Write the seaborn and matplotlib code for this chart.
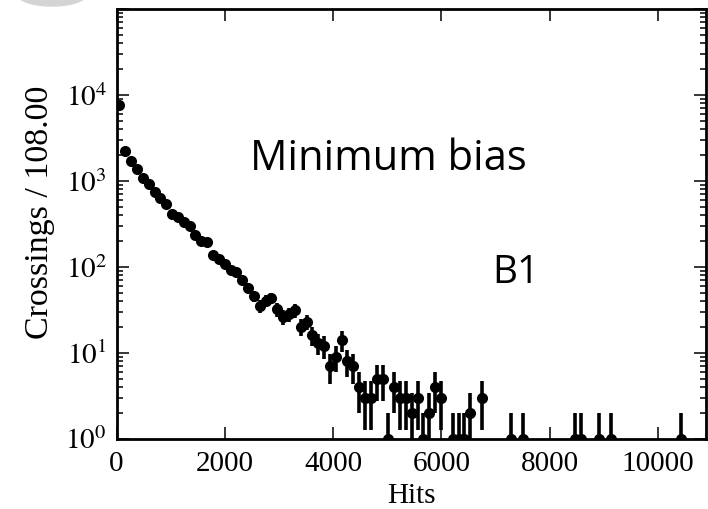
import numpy as np
import pandas as pd
import matplotlib
matplotlib.use("Agg")
import matplotlib.pyplot as plt
import seaborn as sns
from matplotlib.ticker import LogLocator, NullFormatter, FixedLocator
from matplotlib.patches import Ellipse

# ---- data ----
bin_width = 108
bin_index = list(range(0, 56)) + [57, 58, 59, 60, 62, 67, 69, 78, 79, 82, 84, 96]
counts = [7540, 2250, 1690, 1370, 1075, 915, 740, 630, 541, 415,
          380, 335, 296, 235, 200, 196, 138, 124, 109, 92,
          88, 71, 57, 46, 35, 40, 43, 32, 26, 28,
          31, 20, 23, 16, 13, 12, 7, 9, 14, 8,
          7, 4, 3, 3, 5, 5, 1, 4, 3, 3,
          2, 3, 1, 2, 4, 3,
          1, 1, 1, 2, 3, 1, 1, 1, 1, 1, 1, 1]
x_ticks = [0, 2000, 4000, 6000, 8000, 10000]
y_ticks = [1, 10, 100, 1000, 10000]
y_tick_labels = [r"$10^{0}$", r"$10^{1}$", r"$10^{2}$", r"$10^{3}$", r"$10^{4}$"]
x_label = "Hits"
y_label = "Crossings / 108.00"
title_text = "Minimum bias"
tag_text = "B1"

sns.set_theme(style="ticks")
plt.rcParams['font.family'] = ['Liberation Serif', 'DejaVu Serif']
plt.rcParams['mathtext.fontset'] = 'stix'
plt.rcParams['text.color'] = 'black'
plt.rcParams['axes.labelcolor'] = 'black'
plt.rcParams['xtick.color'] = 'black'
plt.rcParams['ytick.color'] = 'black'

W, H = 708, 509
fig = plt.figure(figsize=(W / 100, H / 100), dpi=100)

# faint grey shape cut off at the top-left corner of the reference
fig.patches.append(Ellipse((52 / W, 1 + 6 / H), 70 / W, 24 / H,
                           transform=fig.transFigure, color='#d4d4d4', zorder=0))

x0, x1, y0, y1 = 116.5, 706.0, 9.0, 438.6
ax = fig.add_axes([x0 / W, 1 - y1 / H, (x1 - x0) / W, (y1 - y0) / H])

df = pd.DataFrame({"hits": (np.array(bin_index) + 0.5) * bin_width,
                   "crossings": np.array(counts, dtype=float)})
err = np.sqrt(df["crossings"].values)
lower = np.minimum(err, df["crossings"].values - 0.2)
ax.errorbar(df["hits"], df["crossings"], yerr=[lower, err], fmt='none',
            ecolor='black', elinewidth=2.6, capsize=0, zorder=2)
sns.scatterplot(data=df, x="hits", y="crossings", ax=ax, color='black',
                s=64, edgecolor='black', linewidth=0, zorder=3, legend=False)

ax.set_yscale('log')
ax.set_xlim(0, 10890)
ax.set_ylim(1, 1e5)

ax.xaxis.set_major_locator(FixedLocator(x_ticks))
ax.set_xticklabels([str(t) for t in x_ticks])
ax.set_yticks(y_ticks + [1e5])
ax.set_yticklabels(y_tick_labels + [""])
ax.yaxis.set_minor_locator(LogLocator(base=10, subs=np.arange(2, 10)))
ax.yaxis.set_minor_formatter(NullFormatter())

ax.tick_params(which='both', direction='in', top=True, right=True, colors='black')
ax.tick_params(which='major', length=8.5, width=1.1, labelsize=21)
ax.tick_params(axis='x', which='major', pad=9)
ax.tick_params(axis='y', which='major', pad=7)
ax.tick_params(which='minor', length=4.3, width=1.1)
ax.tick_params(axis='x', which='minor', bottom=False, top=False)
for s in ax.spines.values():
    s.set_linewidth(2.0)
    s.set_color('black')

ax.set_xlabel(x_label, fontsize=21, labelpad=4, color='black')
ax.set_ylabel(y_label, fontsize=24.5, color='black')
ax.yaxis.set_label_coords((55 - x0) / (x1 - x0), (y1 - 212) / (y1 - y0))

fig.text(250 / W, 1 - 170 / H, title_text, fontfamily='Open Sans', fontsize=30,
         ha='left', va='baseline', color='black')
fig.text(492 / W, 1 - 283 / H, tag_text, fontfamily='Open Sans', fontsize=28,
         ha='left', va='baseline', color='black')

fig.savefig("out.png", dpi=100)
